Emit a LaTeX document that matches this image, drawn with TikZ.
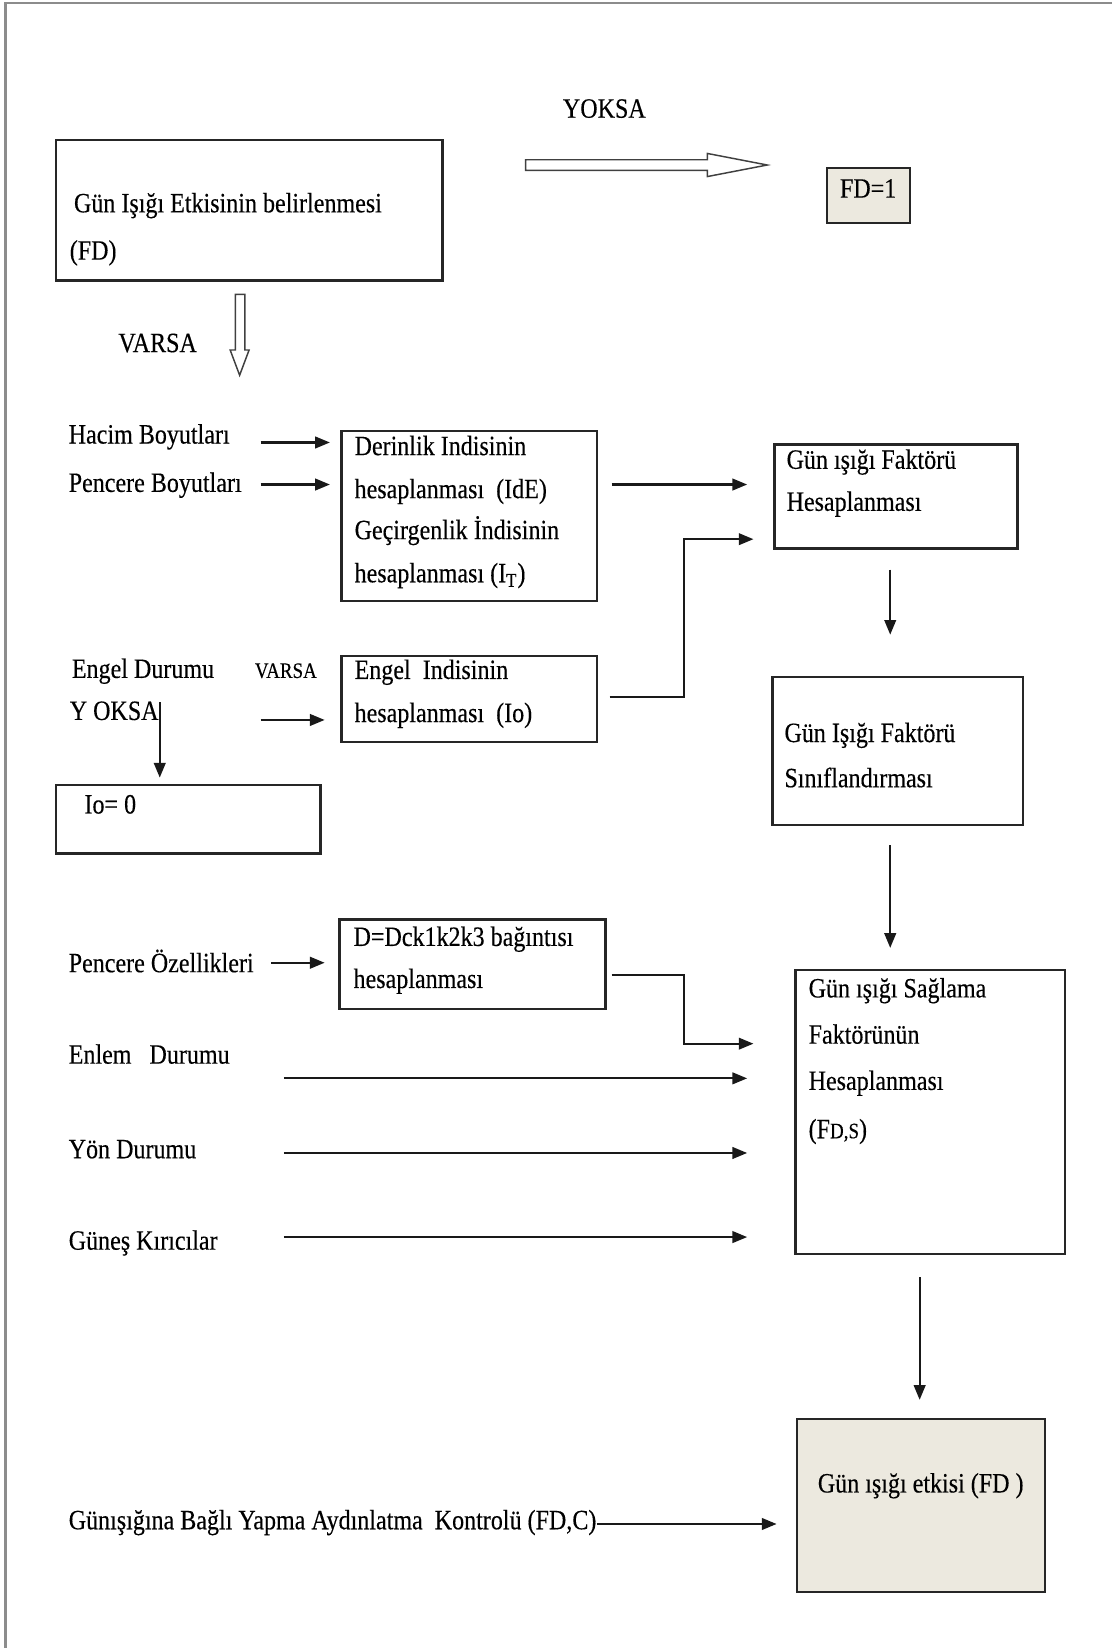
\documentclass[tikz,border=0pt]{standalone}
\usepackage{fontspec}
\setmainfont{Liberation Serif}[FakeStretch=0.86,FakeBold=0.3]
\usetikzlibrary{arrows.meta,fit}
\definecolor{beige}{HTML}{ECE9DF}
\definecolor{framegray}{HTML}{8C8C8C}
\newcommand\fsmain{\fontsize{13.3}{16}\selectfont}
\newcommand\fssmall{\fontsize{10.5}{12}\selectfont}
\begin{document}
\begin{tikzpicture}[x=0.5pt,y=-0.5pt,
  box/.style={draw=black!85,line width=1.1pt,inner sep=0pt},
  fillbox/.style={box,fill=beige},
  lbl/.style={anchor=west,inner sep=0pt,font=\fsmain,text height=0.7em,text depth=0.2em,yshift=-2pt},
  clbl/.style={lbl,anchor=center},
  arr/.style={-{Triangle[length=7pt,width=5.5pt]},line width=1.05pt,black!90},
  hollow/.style={draw=black!75,line width=0.7pt,fill=white}]
\useasboundingbox (0,0) rectangle (1058,1568);
\draw[framegray,line width=1.2pt] (1058,3) -- (5,3) -- (5,1568);

% boxes
\node[box,fit={(53,133) (421,267)}] (main) {};
\node[fillbox,fit={(787,160) (866,212)}] (fd1) {};
\node[box,fit={(325,410) (568,572)}] (deri) {};
\node[box,fit={(737,423) (968,522)}] (gf) {};
\node[box,fit={(325,624) (568,706)}] (engel) {};
\node[box,fit={(53,747) (305,812)}] (io) {};
\node[box,fit={(735,644) (973,785)}] (sinif) {};
\node[box,fit={(323,875) (576,960)}] (dbox) {};
\node[box,fit={(757,923) (1013,1193)}] (big) {};
\node[fillbox,fit={(758,1350) (994,1515)}] (final) {};

% texts
\node[clbl] (yoksa) at (575,103) {YOKSA};
\node[lbl] (t1) at (70,193) {Gün Işığı Etkisinin belirlenmesi};
\node[lbl] (t2) at (66,238) {(FD)};
\node[clbl] (fd1t) at (826,179) {FD=1};
\node[clbl] (varsa) at (150,326) {VARSA};
\node[lbl] (hacim) at (65,413) {Hacim Boyutları};
\node[lbl] (penb) at (65,459) {Pencere Boyutları};
\node[lbl] (d1) at (337,424) {Derinlik Indisinin};
\node[lbl] (d2) at (337,465) {hesaplanması\ \ (IdE)};
\node[lbl] (d3) at (337,504) {Geçirgenlik İndisinin};
\node[lbl] (d4) at (337,545) {hesaplanması (I\textsubscript{T})};
\node[lbl] (g1) at (748,437) {Gün ışığı Faktörü};
\node[lbl] (g2) at (748,477) {Hesaplanması};
\node[lbl] (engd) at (68,636) {Engel Durumu};
\node[clbl,font=\fssmall] (varsa2) at (272,636) {VARSA};
\node[lbl] (yoksa2) at (66,676) {Y OKSA};
\node[lbl] (e1t) at (337,637) {Engel\ \ Indisinin};
\node[lbl] (e2t) at (337,678) {hesaplanması\ \ (Io)};
\node[lbl] (iot) at (80,765) {Io= 0};
\node[lbl] (s1t) at (746,697) {Gün Işığı Faktörü};
\node[lbl] (s2t) at (746,740) {Sınıflandırması};
\node[lbl] (penoz) at (65,916) {Pencere Özellikleri};
\node[lbl] (dd1) at (336,891) {D=Dck1k2k3 bağıntısı};
\node[lbl] (dd2) at (336,931) {hesaplanması};
\node[lbl] (enlem) at (65,1003) {Enlem\ \ \ Durumu};
\node[lbl] (yon) at (65,1093) {Yön Durumu};
\node[lbl] (gunes) at (65,1180) {Güneş Kırıcılar};
\node[lbl] (b1) at (769,940) {Gün ışığı Sağlama};
\node[lbl] (b2) at (769,984) {Faktörünün};
\node[lbl] (b3) at (769,1028) {Hesaplanması};
\node[lbl] (b4) at (769,1074) {(F{\fssmall D,S})};
\node[clbl] (fint) at (876,1411) {Gün ışığı etkisi (FD )};
\node[lbl] (kontrol) at (65,1446) {Günışığına Bağlı Yapma Aydınlatma\ \ Kontrolü (FD,C)};

% hollow arrows
\draw[hollow] (500,152) -- (673,152) -- (673,146) -- (730,157) -- (673,168) -- (673,162) -- (500,162) -- cycle;
\draw[hollow] (224,280) -- (233,280) -- (233,333) -- (237,333) -- (228,357) -- (219,333) -- (224,333) -- cycle;

% connectors
\coordinate (c1) at (248,421);
\draw[arr,shorten >=5pt] (c1) -- (c1 -| deri.west);
\coordinate (c2) at (248,461);
\draw[arr,shorten >=5pt] (c2) -- (c2 -| deri.west);
\coordinate (c3) at (582,461);
\draw[arr,shorten >=12.5pt] (c3) -- (c3 -| gf.west);
\coordinate (c4) at (580,663);
\coordinate (c4b) at (651,513);
\draw[arr,shorten >=9.5pt] (c4) -| (c4b) -- (c4b -| gf.west);
\coordinate (c5) at (248,685);
\draw[arr,shorten >=7.5pt] (c5) -- (c5 -| engel.west);
\coordinate (c6) at (152,668);
\draw[arr,shorten >=3pt] (c6) -- (c6 |- io.north);
\coordinate (c7) at (847,542);
\draw[arr,shorten >=19.5pt] (c7) -- (c7 |- sinif.north);
\coordinate (c8) at (847,804);
\draw[arr,shorten >=10pt] (c8) -- (c8 |- big.north);
\coordinate (c9) at (258,916);
\draw[arr,shorten >=6.5pt] (c9) -- (c9 -| dbox.west);
\coordinate (c10) at (582,928);
\coordinate (c10b) at (651,993);
\draw[arr,shorten >=19.5pt] (c10) -| (c10b) -- (c10b -| big.west);
\coordinate (c11) at (270,1026);
\draw[arr,shorten >=22.5pt] (c11) -- (c11 -| big.west);
\coordinate (c12) at (270,1097);
\draw[arr,shorten >=22.5pt] (c12) -- (c12 -| big.west);
\coordinate (c13) at (270,1177);
\draw[arr,shorten >=22.5pt] (c13) -- (c13 -| big.west);
\coordinate (c14) at (875,1215);
\draw[arr,shorten >=8.5pt] (c14) -- (c14 |- final.north);
\draw[arr,shorten >=9pt] (kontrol.east) -- (kontrol.east -| final.west);
\end{tikzpicture}
\end{document}
